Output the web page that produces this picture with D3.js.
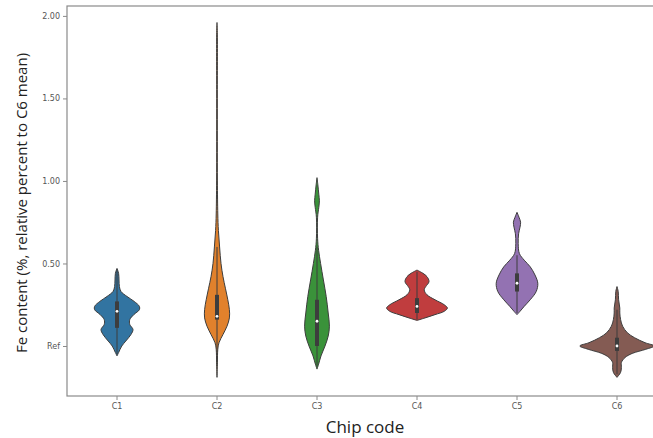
<!DOCTYPE html>
<html>
<head>
<meta charset="utf-8">
<script src="https://cdn.jsdelivr.net/npm/d3@7"></script>
<style>
  html, body { margin: 0; padding: 0; background: #fff; }
  svg { display: block; }
</style>
</head>
<body>
<svg id="chart" width="653" height="438"></svg>
<script>
// Chip categories and their fill colours
const chips = ["C1", "C2", "C3", "C4", "C5", "C6"];
const colors = ["#3274a1", "#e1812c", "#3a923a", "#c03d3e", "#9372b2", "#845b53"];

// Y axis ticks (Ref = C6 mean = 0)
const yTickValues = [0, 0.5, 1.0, 1.5, 2.0];
const yTickLabels = ["Ref", "0.50", "1.00", "1.50", "2.00"];

// Kernel density profiles: evaluation levels and density at each level
const c1Levels  = [0.47, 0.44, 0.40, 0.36, 0.33, 0.30, 0.27, 0.24, 0.22, 0.19, 0.16, 0.13, 0.10, 0.07, 0.03, 0.00, -0.04, -0.06];
const c1Density = [0.00, 0.04, 0.05, 0.06, 0.10, 0.25, 0.43, 0.56, 0.56, 0.42, 0.32, 0.32, 0.40, 0.35, 0.22, 0.12, 0.04, 0.00];

const c2Levels  = [1.96, 1.90, 1.50, 1.00, 0.80, 0.70, 0.60, 0.50, 0.42, 0.35, 0.28, 0.22, 0.17, 0.12, 0.07, 0.02, -0.02, -0.10, -0.19];
const c2Density = [0.00, 0.008, 0.008, 0.01, 0.02, 0.035, 0.065, 0.10, 0.15, 0.21, 0.27, 0.31, 0.31, 0.25, 0.15, 0.05, 0.02, 0.01, 0.00];

const c3Levels  = [1.02, 0.98, 0.92, 0.88, 0.84, 0.78, 0.65, 0.58, 0.50, 0.40, 0.30, 0.20, 0.12, 0.06, 0.00, -0.06, -0.11, -0.14];
const c3Density = [0.00, 0.02, 0.045, 0.06, 0.045, 0.015, 0.015, 0.04, 0.09, 0.16, 0.23, 0.28, 0.31, 0.28, 0.20, 0.10, 0.04, 0.00];

const c4Levels  = [0.46, 0.44, 0.42, 0.39, 0.36, 0.34, 0.31, 0.28, 0.25, 0.23, 0.21, 0.19, 0.17, 0.155];
const c4Density = [0.00, 0.15, 0.25, 0.30, 0.22, 0.18, 0.25, 0.45, 0.68, 0.76, 0.68, 0.45, 0.20, 0.00];

const c5Levels  = [0.81, 0.78, 0.75, 0.72, 0.68, 0.62, 0.56, 0.52, 0.48, 0.43, 0.38, 0.33, 0.28, 0.24, 0.21, 0.19];
const c5Density = [0.00, 0.05, 0.09, 0.075, 0.04, 0.03, 0.06, 0.18, 0.33, 0.45, 0.52, 0.48, 0.33, 0.18, 0.075, 0.00];

const c6Levels  = [0.36, 0.33, 0.28, 0.23, 0.20, 0.16, 0.12, 0.08, 0.05, 0.02, 0.00, -0.02, -0.045, -0.07, -0.10, -0.13, -0.16, -0.19];
const c6Density = [0.00, 0.03, 0.04, 0.07, 0.07, 0.09, 0.14, 0.26, 0.44, 0.70, 0.93, 0.72, 0.38, 0.20, 0.11, 0.11, 0.09, 0.00];

// Box summaries: lower whisker, Q1, median, Q3, upper whisker
const whiskerLow  = [-0.05, -0.12, -0.12, 0.16, 0.20, -0.17];
const q1          = [0.11, 0.16, 0.00, 0.20, 0.33, -0.03];
const medians     = [0.21, 0.18, 0.15, 0.24, 0.38, 0.00];
const q3          = [0.27, 0.31, 0.28, 0.29, 0.44, 0.05];
const whiskerHigh = [0.46, 0.60, 0.60, 0.45, 0.55, 0.22];

const levels = [c1Levels, c2Levels, c3Levels, c4Levels, c5Levels, c6Levels];
const densities = [c1Density, c2Density, c3Density, c4Density, c5Density, c6Density];

const svg = d3.select("#chart");
const plot = { left: 67, right: 667, top: 6, bottom: 396 };

const x = d3.scaleBand().domain(chips).range([plot.left, plot.right]).paddingInner(0).paddingOuter(0);
const y = d3.scaleLinear().domain([-0.303, 2.06]).range([plot.bottom, plot.top]);
const w = d3.scaleLinear().domain([0, 1]).range([0, 40]);

const axisColor = "#8a8a8a";
const lineColor = "#3d3d3d";

// Frame
svg.append("rect")
  .attr("x", plot.left).attr("y", plot.top)
  .attr("width", plot.right - plot.left).attr("height", plot.bottom - plot.top)
  .attr("fill", "none").attr("stroke", axisColor).attr("stroke-width", 1.2);

// Y axis
const yAxis = d3.axisLeft(y).tickValues(yTickValues)
  .tickFormat((d, i) => yTickLabels[i]).tickSize(4).tickPadding(3);
const gy = svg.append("g").attr("transform", `translate(${plot.left},0)`).call(yAxis);
gy.select(".domain").remove();
gy.selectAll(".tick line").attr("stroke", axisColor);
gy.selectAll(".tick text").attr("fill", "#555").attr("font-size", 8)
  .attr("font-family", "DejaVu Sans, sans-serif");

// X axis
const xAxis = d3.axisBottom(x).tickSize(4).tickPadding(3);
const gx = svg.append("g").attr("transform", `translate(0,${plot.bottom})`).call(xAxis);
gx.select(".domain").remove();
gx.selectAll(".tick line").attr("stroke", axisColor);
gx.selectAll(".tick text").attr("fill", "#555").attr("font-size", 8)
  .attr("font-family", "DejaVu Sans, sans-serif");

// Axis titles
svg.append("text")
  .attr("x", (plot.left + plot.right) / 2 - 2).attr("y", 433)
  .attr("text-anchor", "middle").attr("font-size", 17)
  .attr("font-family", "Open Sans, DejaVu Sans, sans-serif").attr("fill", "#222")
  .text("Chip code");

svg.append("text")
  .attr("transform", `translate(27,203) rotate(-90)`)
  .attr("text-anchor", "middle").attr("font-size", 15)
  .attr("font-family", "Open Sans, DejaVu Sans, sans-serif").attr("fill", "#222")
  .text("Fe content (%, relative percent to C6 mean)");

// Violins
chips.forEach((chip, i) => {
  const cx = x(chip) + x.bandwidth() / 2;
  const pts = levels[i].map((v, j) => ({ v, d: densities[i][j] }));
  const area = d3.area()
    .y(p => y(p.v))
    .x0(p => cx - w(p.d))
    .x1(p => cx + w(p.d))
    .curve(d3.curveCatmullRom.alpha(0.5));

  const g = svg.append("g");
  g.append("path")
    .attr("d", area(pts))
    .attr("fill", colors[i])
    .attr("stroke", lineColor)
    .attr("stroke-width", 1);

  // Whisker
  g.append("line")
    .attr("x1", cx).attr("x2", cx)
    .attr("y1", y(whiskerLow[i])).attr("y2", y(whiskerHigh[i]))
    .attr("stroke", lineColor).attr("stroke-width", 1);
  // Interquartile box
  g.append("line")
    .attr("x1", cx).attr("x2", cx)
    .attr("y1", y(q1[i])).attr("y2", y(q3[i]))
    .attr("stroke", lineColor).attr("stroke-width", 4);
  // Median
  g.append("circle")
    .attr("cx", cx).attr("cy", y(medians[i])).attr("r", 1.4)
    .attr("fill", "#fff");
});
</script>
</body>
</html>
